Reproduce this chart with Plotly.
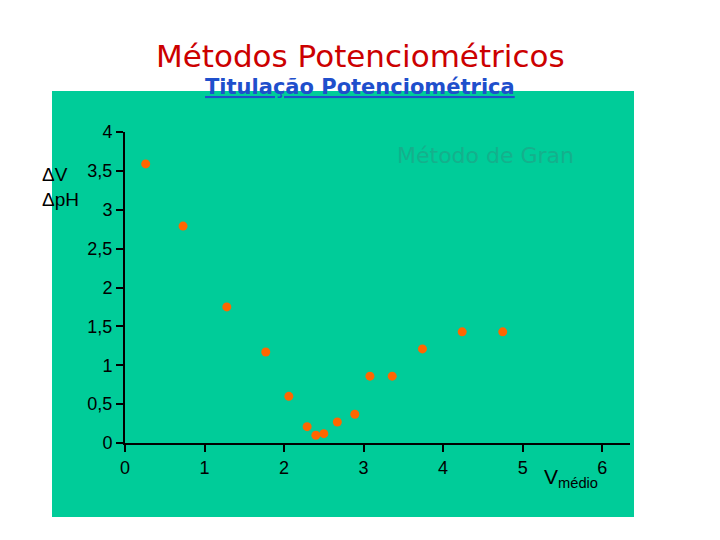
import plotly.graph_objects as go

# Gran plot data (mean volume vs dpH/dV)
v_medio = [0.26, 0.73, 1.28, 1.77, 2.06, 2.29, 2.40, 2.50, 2.67, 2.89, 3.08, 3.36, 3.74, 4.24, 4.75]
dph_dv = [3.59, 2.79, 1.75, 1.17, 0.60, 0.21, 0.10, 0.12, 0.27, 0.37, 0.86, 0.86, 1.21, 1.43, 1.43]

x_ticks = [0, 1, 2, 3, 4, 5, 6]
y_ticks = [0, 0.5, 1, 1.5, 2, 2.5, 3, 3.5, 4]
y_labels = ["0", "0,5", "1", "1,5", "2", "2,5", "3", "3,5", "4"]

green = "#00CC99"
w_plot, h_plot = 505, 311

fig = go.Figure()
fig.add_trace(go.Scatter(x=v_medio, y=dph_dv, mode="markers",
                         marker=dict(color="#FF6600", size=9, symbol="circle")))

# green panel behind axes
fig.add_shape(type="rect", xref="paper", yref="paper", layer="below",
              x0=(52 - 125) / w_plot, x1=(634 - 125) / w_plot,
              y0=(443 - 517) / h_plot, y1=(443 - 91) / h_plot,
              fillcolor=green, line=dict(width=0))

fig.update_layout(
    width=720, height=540, showlegend=False,
    margin=dict(l=117, r=98, t=124, b=105),
    paper_bgcolor="white", plot_bgcolor=green,
    font=dict(family="Liberation Sans, Arial", size=18, color="black"),
)
fig.update_xaxes(range=[0, 6.35], tickvals=x_ticks, showgrid=False, zeroline=False,
                 showline=True, linecolor="black", linewidth=2,
                 ticks="outside", ticklen=7, tickwidth=2, tickcolor="black")
fig.update_yaxes(range=[0, 4], tickvals=y_ticks, ticktext=y_labels, showgrid=False,
                 zeroline=False, showline=True, linecolor="black", linewidth=2,
                 ticks="outside", ticklen=7, tickwidth=2, tickcolor="black")

# titles
fig.add_annotation(xref="paper", yref="paper", x=(360 - 125) / w_plot, y=(443 - 36) / h_plot,
                   text="Métodos Potenciométricos", showarrow=False,
                   font=dict(family="DejaVu Sans", size=31, color="#CC0000"))
fig.add_annotation(xref="paper", yref="paper", x=(360 - 125) / w_plot, y=(443 - 73) / h_plot,
                   text="<u><b>Titulação Potenciométrica</b></u>", showarrow=False,
                   font=dict(family="DejaVu Sans", size=21, color="#1F4FCC"))
fig.add_annotation(xref="paper", yref="paper", x=(576 - 125) / w_plot, y=(443 - 141) / h_plot,
                   text="Método de Gran", showarrow=False,
                   font=dict(family="DejaVu Sans", size=22, color="#14B08C"))
fig.add_annotation(xref="paper", yref="paper", x=(40 - 125) / w_plot, y=(443 - 162) / h_plot,
                   text="ΔV<br>ΔpH", showarrow=False, align="left",
                   font=dict(family="Liberation Sans", size=19, color="black"))
fig.add_annotation(xref="paper", yref="paper", x=(600 - 125) / w_plot, y=(443 - 493) / h_plot,
                   text="V<sub>médio</sub>", showarrow=False,
                   font=dict(family="Liberation Sans", size=21, color="black"))

fig.write_html("out.html")
